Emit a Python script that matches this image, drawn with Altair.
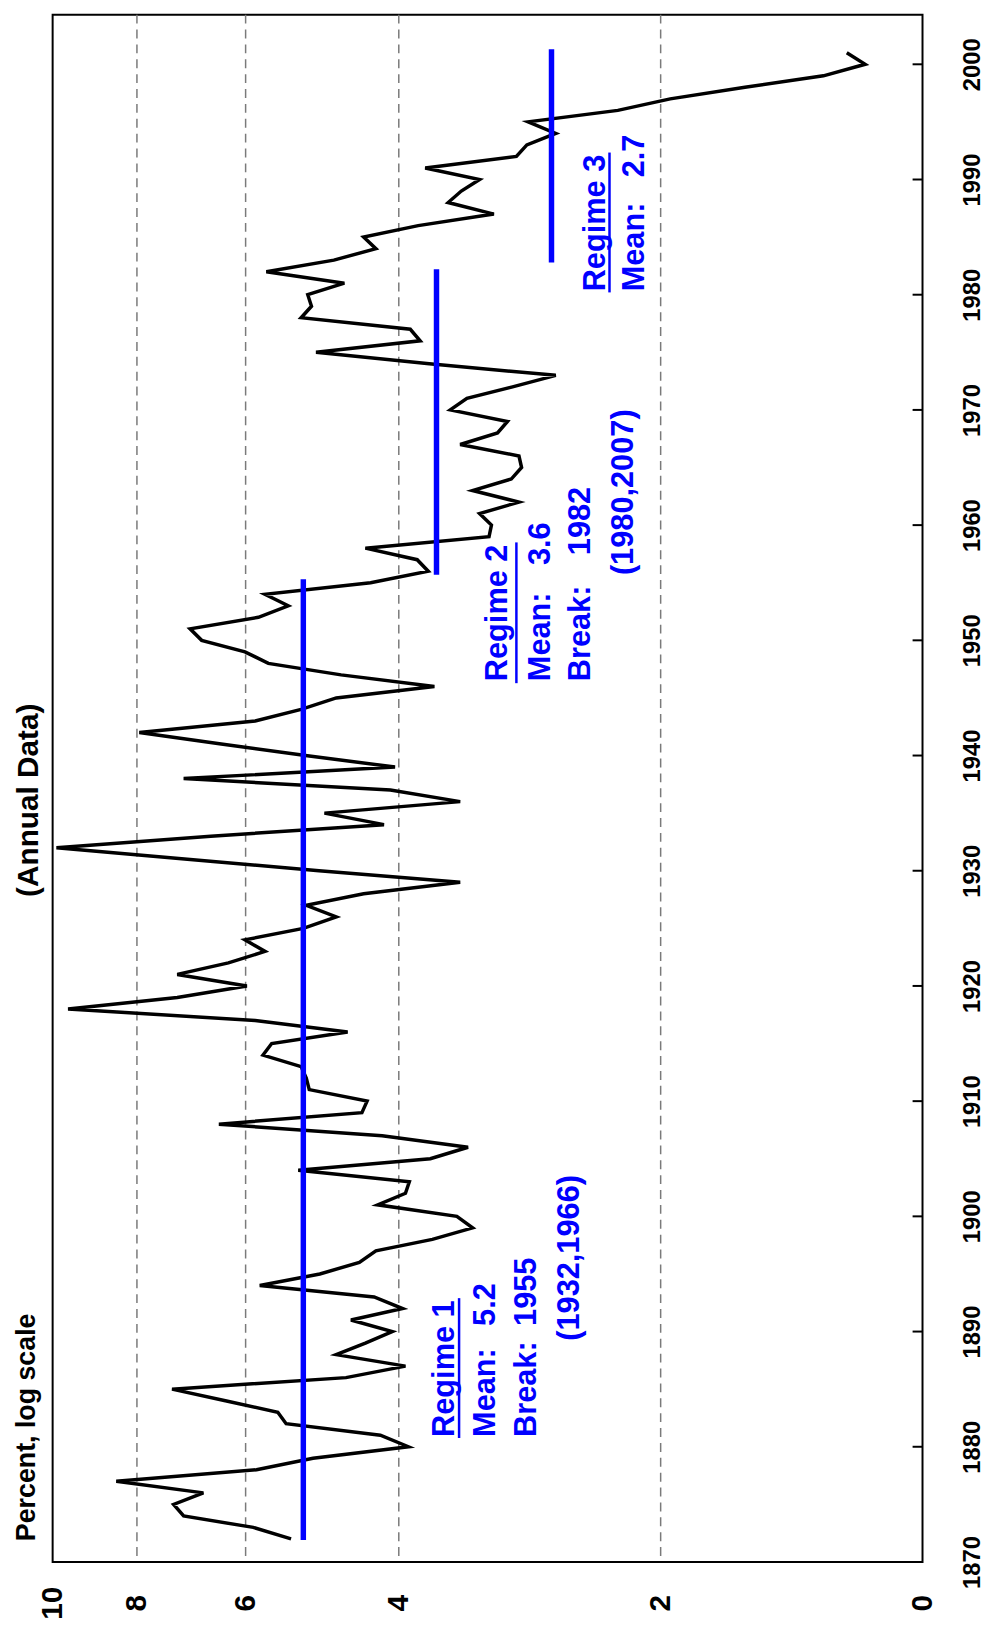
import altair as alt
import pandas as pd

# ---- data ----
years = list(range(1872, 2002))
values = [
    5.32, 5.88, 7.07, 7.26, 6.71, 8.45, 5.83, 5.02, 3.90, 4.20,   # 1872-1881
    5.39, 5.51, 6.33, 7.29, 4.60, 3.93, 4.72, 4.37, 4.07, 4.54,   # 1882-1891
    3.96, 4.27, 5.78, 4.93, 4.44, 4.25, 3.66, 3.29, 3.43, 4.23,   # 1892-1901
    3.93, 3.89, 5.22, 3.68, 3.33, 4.18, 6.44, 4.41, 4.35, 5.07,   # 1902-1911
    5.11, 5.18, 5.73, 5.60, 4.58, 5.85, 9.60, 7.19, 5.98, 7.19,   # 1912-1921
    6.28, 5.70, 6.01, 5.15, 4.72, 5.11, 4.39, 3.40, 4.94, 7.00,   # 1922-1931
    9.90, 6.58, 4.16, 4.87, 3.40, 4.09, 7.07, 4.04, 5.12, 6.40,   # 1932-1941
    7.95, 5.85, 5.18, 4.72, 3.64, 4.66, 5.65, 6.01, 6.74, 6.95,   # 1942-1951
    5.80, 5.36, 5.70, 4.31, 3.70, 3.81, 4.37, 3.15, 3.13, 3.23,   # 1952-1961
    2.91, 3.29, 2.97, 2.89, 2.91, 3.40, 3.08, 3.00, 3.49, 3.34,   # 1962-1971
    2.96, 2.64, 3.69, 4.98, 3.78, 3.88, 5.18, 5.04, 5.09, 4.62,   # 1972-1981
    5.68, 4.75, 4.25, 4.39, 3.80, 3.11, 3.51, 3.39, 3.23, 3.73,   # 1982-1991
    2.93, 2.85, 2.64, 2.84, 2.24, 1.95, 1.60, 1.30, 1.164, 1.222, # 1992-2001
]

regime_start = [1871.9, 1955.7, 1982.8]
regime_end = [1955.3, 1982.2, 2001.3]
regime_mean = [5.15, 3.62, 2.67]

grid_values = [2, 4, 6, 8]
value_ticks = [1, 2, 4, 6, 8, 10]
year_ticks = list(range(1870, 2001, 10))

ann_text = ["Regime 1", "Mean:", "5.2", "Break:", "1955", "(1932,1966)",
            "Regime 2", "Mean:", "3.6", "Break:", "1982", "(1980,2007)",
            "Regime 3", "Mean:", "2.7"]
ann_year = [1880.85, 1880.85, 1890.49, 1880.85, 1890.49, 1889.2,
            1946.45, 1946.45, 1956.53, 1946.45, 1957.39, 1955.66,
            1980.29, 1980.29, 1990.19]
ann_value = [3.46, 3.10, 3.10, 2.78, 2.78, 2.48,
             3.00, 2.68, 2.68, 2.41, 2.41, 2.15,
             2.32, 2.09, 2.09]

underline_value = [3.41, 2.93, 2.29]
underline_start = [1880.76, 1946.28, 1980.2]
underline_end = [1892.9, 1958.5, 1992.34]

title_left = "Percent, log scale"
title_mid = "(Annual Data)"

FONT = "Liberation Sans"

# ---- scales / axes ----
xscale = alt.Scale(type="log", domain=[1, 10], reverse=True, nice=False)
yscale = alt.Scale(domain=[1870, 2004.31], nice=False, zero=False)

xaxis = alt.Axis(
    orient="bottom", values=value_ticks, title=None, grid=False, ticks=False,
    domain=False, labelAngle=270, labelAlign="center", labelBaseline="middle",
    labelPadding=41, labelFontSize=30, labelFontWeight="bold", labelFont=FONT,
    labelColor="black", labelFlush=False, labelOverlap=False,
    labelExpr="datum.value == 1 ? '0' : format(datum.value, 'd')",
)
yaxis = alt.Axis(
    orient="right", values=year_ticks, title=None, grid=False, ticks=False,
    tickSize=0, domain=False, labelAngle=270, labelAlign="center",
    labelBaseline="top", labelPadding=38, labelFontSize=24,
    labelFontWeight="bold", labelFont=FONT, labelColor="black",
    labelFlush=False, labelOverlap=False, format="d",
)


def X(f):
    return alt.X(f, type="quantitative", scale=xscale, axis=xaxis)


def Y(f):
    return alt.Y(f, type="quantitative", scale=yscale, axis=yaxis)


series = pd.DataFrame({"year": years, "value": values})
regimes = pd.DataFrame({"value": regime_mean, "year": regime_start, "year_end": regime_end})
grid = pd.DataFrame({"value": grid_values})
ticks = pd.DataFrame({"year": year_ticks})
ann = pd.DataFrame({"text": ann_text, "year": ann_year, "value": ann_value})
under = pd.DataFrame({"value": underline_value, "year": underline_start, "year_end": underline_end})
titles = pd.DataFrame({"text": [title_left]})
titles2 = pd.DataFrame({"text": [title_mid]})

grid_layer = alt.Chart(grid).mark_rule(
    color="#7a7a7a", strokeWidth=1.5, strokeDash=[9, 6]
).encode(x=X("value"))

tick_layer = alt.Chart(ticks).mark_rule(color="black", strokeWidth=2).encode(
    y=Y("year"), x=alt.value(867), x2=alt.value(877)
)

line_layer = alt.Chart(series).mark_line(color="black", strokeWidth=3.5).encode(
    x=X("value"), y=Y("year"), order=alt.Order("year:Q")
)

regime_layer = alt.Chart(regimes).mark_rule(color="#0000ff", strokeWidth=5.5).encode(
    x=X("value"), y=Y("year"), y2="year_end:Q"
)

under_layer = alt.Chart(under).mark_rule(color="#0000ff", strokeWidth=2.5).encode(
    x=X("value"), y=Y("year"), y2="year_end:Q"
)

ann_layer = alt.Chart(ann).mark_text(
    angle=270, align="left", baseline="alphabetic", fontSize=31,
    fontWeight="bold", font=FONT, color="#0000ff"
).encode(x=X("value"), y=Y("year"), text="text:N")

title_layer = alt.Chart(titles).mark_text(
    angle=270, align="left", baseline="alphabetic", fontSize=27,
    fontWeight="bold", font=FONT, color="black"
).encode(x=alt.value(-18), y=alt.value(1539), text="text:N")

title2_layer = alt.Chart(titles2).mark_text(
    angle=270, align="center", baseline="alphabetic", fontSize=30,
    fontWeight="bold", font=FONT, color="black"
).encode(x=alt.value(-15), y=alt.value(792), text="text:N")

chart = alt.layer(
    grid_layer, tick_layer, line_layer, regime_layer, under_layer,
    ann_layer, title_layer, title2_layer
).properties(
    width=877, height=1560,
    autosize=alt.AutoSizeParams(type="none"),
    padding={"left": 45, "top": 0, "right": 63, "bottom": 76},
    background="white",
).configure_view(stroke="black", strokeWidth=2)

chart.save("out.html", embed_options={"renderer": "svg", "actions": False})
